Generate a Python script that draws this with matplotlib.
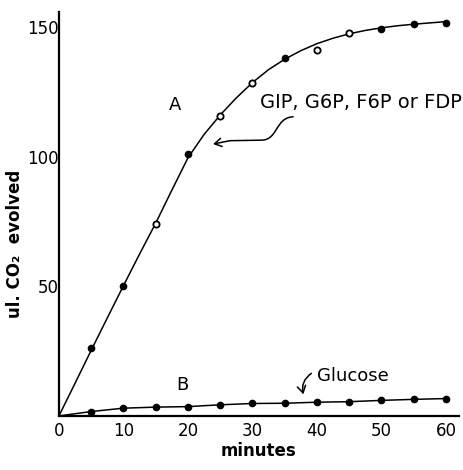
import matplotlib
matplotlib.use("Agg")
import matplotlib.pyplot as plt
from matplotlib.path import Path
from matplotlib.patches import FancyArrowPatch

# measured points, curve A (hexose phosphates) and curve B (glucose)
minutes = [5, 10, 15, 20, 25, 30, 35, 40, 45, 50, 55, 60]
co2_a = [26.0, 50.0, 74.0, 100.9, 115.5, 128.4, 137.9, 141.1, 147.8, 149.1, 151.0, 151.6]
co2_b = [1.7, 3.0, 3.4, 3.6, 4.3, 4.8, 4.9, 5.3, 5.5, 6.0, 6.4, 6.7]
open_minutes_a = [15, 25, 30, 40, 45]

# hand-drawn fitted curve for A
curve_a_t = [0, 2.5, 5, 7.5, 10, 12.5, 15, 17.5, 20, 22.5, 25, 27.5, 30,
             32.5, 35, 37.5, 40, 42.5, 45, 47.5, 50, 52.5, 55, 57.5, 60]
curve_a_y = [0, 12.6, 25.3, 37.8, 50.2, 62.4, 74.3, 87.0, 99.5, 108.5, 116.0,
             122.6, 128.5, 133.5, 137.5, 140.8, 143.5, 145.6, 147.3, 148.6,
             149.6, 150.4, 151.0, 151.5, 152.0]

x_ticks = [0, 10, 20, 30, 40, 50, 60]
y_ticks = [50, 100, 150]

fig = plt.figure(figsize=(4.64, 4.70), dpi=100)
ax = fig.add_axes([0.127, 0.115, 0.862, 0.86])

ax.plot(curve_a_t, curve_a_y, color="black", lw=1.1)
ax.plot([0] + minutes, [0] + co2_b, color="black", lw=1.1)

filled = [(t, y) for t, y in zip(minutes, co2_a) if t not in open_minutes_a]
hollow = [(t, y) for t, y in zip(minutes, co2_a) if t in open_minutes_a]
ax.plot(*zip(*filled), "o", color="black", ms=4.5, ls="none")
ax.plot(*zip(*hollow), "o", mfc="white", mec="black", mew=1.3, ms=4.5, ls="none")
ax.plot(minutes, co2_b, "o", color="black", ms=4.5, ls="none")

ax.set_xlim(0, 62)
ax.set_ylim(0, 155.8)
ax.set_xticks(x_ticks)
ax.set_yticks(y_ticks)
ax.tick_params(length=0, labelsize=12)
ax.tick_params(axis="y", pad=0)
ax.tick_params(axis="x", pad=4)
for side in ["top", "right"]:
    ax.spines[side].set_visible(False)
for side in ["left", "bottom"]:
    ax.spines[side].set_linewidth(1.6)

ax.set_xlabel("minutes", fontsize=12, fontweight="bold", labelpad=2)
ax.set_ylabel("ul. CO₂  evolved", fontsize=12, fontweight="bold")
ax.yaxis.set_label_coords(-0.088, 0.425)

ax.text(18.0, 120, "A", fontsize=13, ha="center", va="center")
ax.text(19.2, 12.0, "B", fontsize=13, ha="center", va="center")
ax.text(31.2, 120.7, "GIP, G6P, F6P or FDP", fontsize=14, ha="left", va="center")
ax.text(40.0, 15.4, "Glucose", fontsize=13, ha="left", va="center")

# wavy pointer to curve A
wave = Path([(36.3, 115.3), (33.5, 115.0), (34.0, 106.4), (31.4, 106.3),
             (26.5, 106.1), (23.9, 104.8)],
            [Path.MOVETO, Path.CURVE4, Path.CURVE4, Path.CURVE4,
             Path.LINETO, Path.LINETO])
ax.add_patch(FancyArrowPatch(path=wave, arrowstyle="->,head_length=0.5,head_width=0.3",
                             mutation_scale=10, color="black", lw=1.1))

ax.annotate("", xy=(38.0, 7.3), xytext=(39.5, 17.0),
            arrowprops=dict(arrowstyle="->,head_length=0.5,head_width=0.3",
                            connectionstyle="arc3,rad=0.4", color="black", lw=1.1))

fig.savefig("out.png", dpi=100)
